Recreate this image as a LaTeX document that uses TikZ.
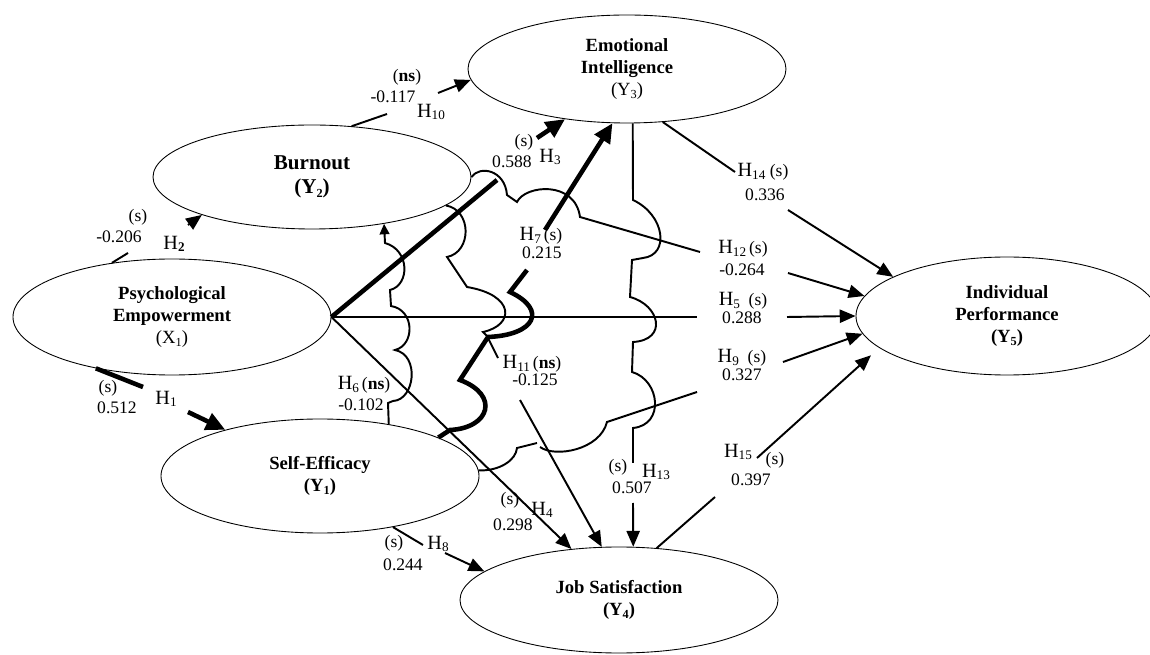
\documentclass[tikz,border=0pt]{standalone}
\usepackage{fontspec}
\setmainfont{Liberation Serif}
\usetikzlibrary{shapes.geometric,arrows.meta}

\newcommand{\hyp}[1]{{\fontsize{11.5}{12}\selectfont H}{\fontsize{7.5}{8}\selectfont\raisebox{-0.45ex}{#1}}}
\newcommand{\lsub}[1]{\raisebox{-0.4ex}{\fontsize{7}{8}\selectfont #1}}

\begin{document}
\begin{tikzpicture}[x=0.2mm,y=-0.2mm,
    latent/.style={ellipse,draw,line width=0.5pt,inner sep=0pt,minimum width=63.6mm,align=center,font=\fontsize{10.6}{12.5}\selectfont\bfseries},
    link/.style={line width=1.1pt},
    strong/.style={line width=2.6pt},
    tip/.style={-{Triangle[length=9pt,width=7.5pt]}},
    bigtip/.style={-{Triangle[length=11pt,width=10pt]}},
    smalltip/.style={-{Triangle[length=6pt,width=5.5pt]}},
    lbl/.style={inner sep=0pt,font=\fontsize{10}{12}\selectfont}]

    % Fix the page size
    \useasboundingbox (0,0) rectangle (1150,655);

    % Draw the constructs
    \node[latent,minimum height=23.2mm] (pe) at (172,317) {Psychological\\Empowerment\\\mdseries(X\lsub{1})};
    \node[latent,minimum height=22.8mm] (se) at (320,476) {Self-Efficacy\\(Y\lsub{1})};
    \node[latent,minimum height=20.8mm,font=\fontsize{12}{14}\selectfont\bfseries] (bo) at (312,177) {Burnout\\(Y\lsub{2})};
    \node[latent,minimum height=21.6mm] (ei) at (627,69) {Emotional\\Intelligence\\\mdseries(Y\lsub{3})};
    \node[latent,minimum height=21.2mm] (js) at (619,600) {Job Satisfaction\\(Y\lsub{4})};
    \node[latent,minimum width=60.4mm,minimum height=23.6mm] (ip) at (1007,316) {Individual\\Performance\\(Y\lsub{5})};

    % H1
    \draw[strong] (pe.214) -- (143,387);
    \draw[strong,bigtip] (188,412) -- (se.154);
    \node[lbl] (h1s) at (108,388) {(s)};
    \node[lbl] (h1v) at (117,408) {0.512};
    \node[lbl] (h1h) at (166,399) {\hyp{1}};

    % H2
    \draw[link] (pe.138) -- (128,253);
    \draw[link,tip] (188,225) -- (bo.-161);
    \node[lbl] (h2s) at (138,217) {(s)};
    \node[lbl] (h2v) at (119,237) {-0.206};
    \node[lbl] (h2h) at (174,244) {\hyp{\textbf{2}}};

    % H3
    \draw[strong] (pe.east) -- (497,180);
    \draw[strong,bigtip] (537,138) -- (ei.219);
    \node[lbl] (h3s) at (524,142) {(s)};
    \node[lbl] (h3v) at (512,162) {0.588};
    \node[lbl] (h3h) at (550,157) {\hyp{3}};

    % H4
    \draw[link,tip] (pe.east) -- (js.133);
    \node[lbl] (h4s) at (510,500) {(s)};
    \node[lbl] (h4h) at (542,510) {\hyp{4}};
    \node[lbl] (h4v) at (513,525) {0.298};

    % H5
    \draw[link] (pe.east) -- (697,317);
    \draw[link,tip] (787,317) -- (ip.west);
    \node[lbl] (h5h) at (743,301) {\hyp{5}~~(s)};
    \node[lbl] (h5v) at (742,318) {0.288};

    % H6
    \draw[link,smalltip] (se.37) -- (388,403) -- (393,401)
        .. controls (415,400) and (420,355) .. (395,350)
        .. controls (415,345) and (415,310) .. (391,306)
        -- (390,290)
        .. controls (410,285) and (410,250) .. (385,243)
        -- (bo.-33);
    \node[lbl] (h6h) at (364,385) {\hyp{6}\,(\textbf{ns})};
    \node[lbl] (h6v) at (361,405) {-0.102};

    % H7
    \draw[strong] (se.18) -- (450,430)
        .. controls (490,428) and (500,395) .. (460,380)
        -- (488,337)
        .. controls (535,335) and (548,310) .. (510,292)
        -- (527,270);
    \draw[strong,bigtip] (545,230) -- (ei.255);
    \node[lbl] (h7h) at (541,236) {\hyp{7}\,(s)};
    \node[lbl] (h7v) at (542,253) {0.215};

    % H8
    \draw[link] (se.-35) -- (423,545);
    \draw[link,tip] (445,553) -- (js.168);
    \node[lbl] (h8s) at (394,543) {(s)};
    \node[lbl] (h8h) at (438,544) {\hyp{8}};
    \node[lbl] (h8v) at (403,565) {0.244};

    % H9
    \draw[link] (se.2) .. controls (500,471) and (516,460) .. (517,448)
        -- (537,443)
        (540,447) .. controls (555,458) and (600,450) .. (607,422)
        -- (697,392);
    \draw[link,tip] (783,362) -- (ip.187);
    \node[lbl] (h9h) at (742,358) {\hyp{9}~~(s)};
    \node[lbl] (h9v) at (742,375) {0.327};

    % H10
    \draw[link] (bo.52) -- (387,114);
    \draw[link,tip] (438,93) -- (ei.184);
    \node[lbl] (h10s) at (407,77) {(\textbf{ns})};
    \node[lbl] (h10v) at (393,97) {-0.117};
    \node[lbl] (h10h) at (431,112) {\hyp{10}};

    % H11
    \draw[link] (bo.-12) .. controls (472,210) and (472,252) .. (447,257)
        -- (467,287)
        .. controls (515,295) and (515,325) .. (483,332)
        -- (487,336) -- (498,358);
    \draw[link,tip] (520,400) -- (js.108);
    \node[lbl] (h11h) at (532,364) {\hyp{11}\,(\textbf{ns})};
    \node[lbl] (h11v) at (535,380) {-0.125};

    % H12
    \draw[link] (bo.east) .. controls (480,165) and (505,170) .. (507,195)
        -- (517,202)
        .. controls (525,185) and (575,180) .. (580,217)
        -- (700,252);
    \draw[link,tip] (788,273) -- (ip.172);
    \node[lbl] (h12h) at (743,249) {\hyp{12}\,(s)};
    \node[lbl] (h12v) at (742,270) {-0.264};

    % H13
    \draw[link] (ei.276) -- (633,200)
        .. controls (665,215) and (670,255) .. (643,258) -- (632,260)
        -- (630,297)
        .. controls (660,305) and (668,340) .. (633,342)
        -- (632,372)
        .. controls (660,380) and (665,425) .. (633,428)
        -- (633,463);
    \draw[link,tip] (633,503) -- (js.75);
    \node[lbl] (h13s) at (618,467) {(s)};
    \node[lbl] (h13h) at (656,472) {\hyp{13}};
    \node[lbl] (h13v) at (632,488) {0.507};

    % H14
    \draw[link] (ei.304) -- (735,172);
    \draw[link,tip] (788,210) -- (ip.161);
    \node[lbl] (h14h) at (763,172) {\hyp{14}~(s)};
    \node[lbl] (h14v) at (765,195) {0.336};

    % H15
    \draw[link] (js.54) -- (715,497);
    \draw[link,tip,shorten >=2.2mm] (757,458) -- (ip.194);
    \node[lbl] (h15h) at (738,452) {\hyp{15}};
    \node[lbl] (h15s) at (775,460) {(s)};
    \node[lbl] (h15v) at (751,480) {0.397};

\end{tikzpicture}
\end{document}
